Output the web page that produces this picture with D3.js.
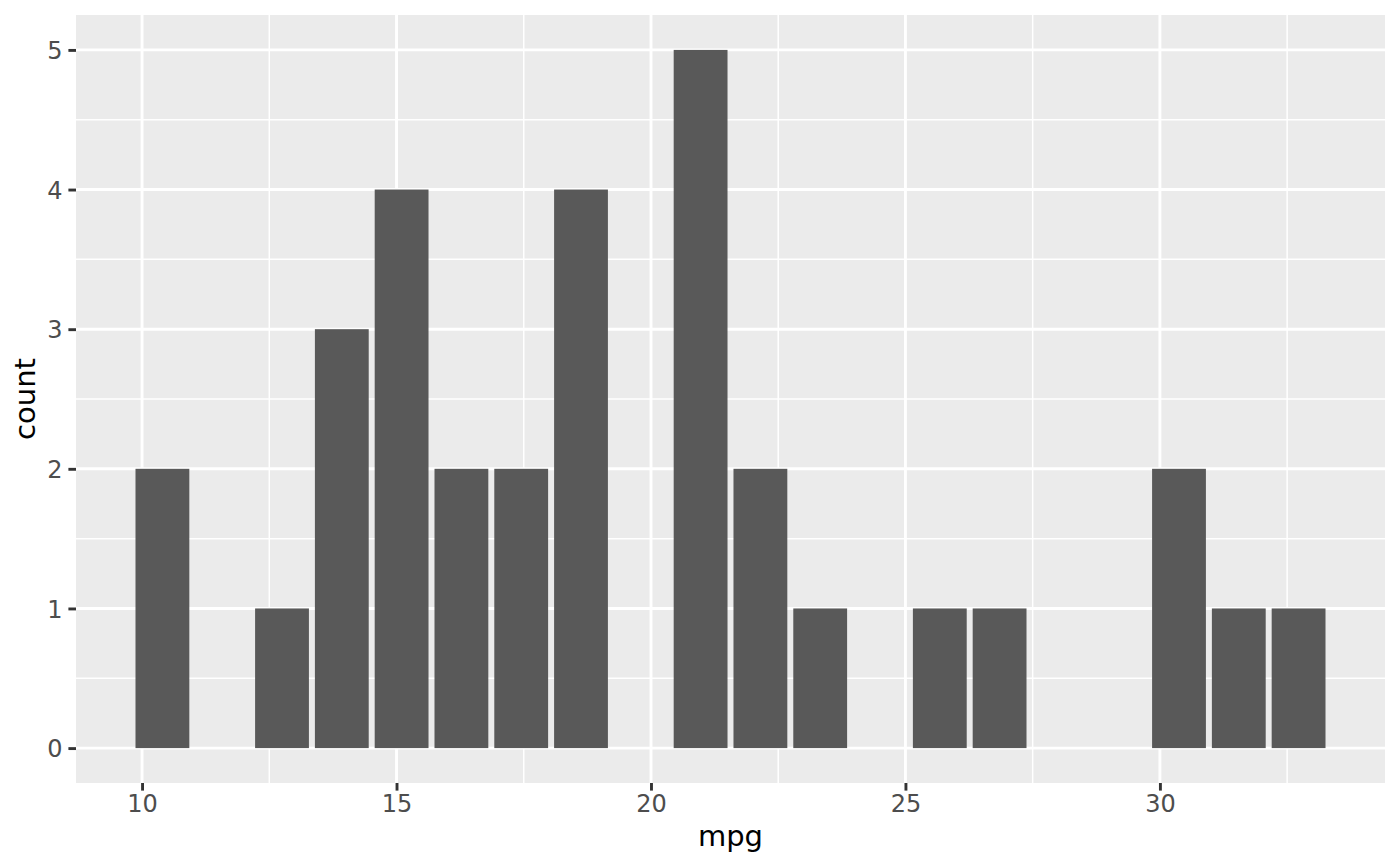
<!DOCTYPE html>
<html>
<head>
<meta charset="utf-8">
<script src="https://cdn.jsdelivr.net/npm/d3@7"></script>
<style>
  html, body { margin: 0; padding: 0; background: #ffffff; }
  svg { display: block; }
</style>
</head>
<body>
<svg id="chart" width="1400" height="866"></svg>
<script>
// Bin centres of the mpg histogram (20 bins)
const binCenters = [10.4, 11.575, 12.75, 13.925, 15.1, 16.275, 17.45, 18.625, 19.8, 20.975,
                    22.15, 23.325, 24.5, 25.675, 26.85, 28.025, 29.2, 30.375, 31.55, 32.725];
// Counts per bin
const counts = [2, 0, 1, 3, 4, 2, 2, 4, 0, 5, 2, 1, 0, 1, 1, 0, 0, 2, 1, 1];
const binWidth = 1.175;
const xTicks = [10, 15, 20, 25, 30];
const xMinor = [12.5, 17.5, 22.5, 27.5, 32.5];
const yTicks = [0, 1, 2, 3, 4, 5];
const yMinor = [0.5, 1.5, 2.5, 3.5, 4.5];
const xTitle = "mpg";
const yTitle = "count";

const data = binCenters.map((c, i) => ({ x: c, n: counts[i] }));

const svg = d3.select("#chart");
const panel = { left: 76, right: 1385, top: 15, bottom: 783 };

const barW = binWidth * 0.9;
const xMin = d3.min(binCenters) - barW / 2, xMax = d3.max(binCenters) + barW / 2;
const xExp = (xMax - xMin) * 0.05;
const x = d3.scaleLinear().domain([xMin - xExp, xMax + xExp]).range([panel.left, panel.right]);
const yMax = d3.max(counts);
const y = d3.scaleLinear().domain([-yMax * 0.05, yMax * 1.05]).range([panel.bottom, panel.top]);

svg.append("rect").attr("width", 1400).attr("height", 866).attr("fill", "#ffffff");
svg.append("rect")
  .attr("x", panel.left).attr("y", panel.top)
  .attr("width", panel.right - panel.left).attr("height", panel.bottom - panel.top)
  .attr("fill", "#EBEBEB");

const grid = svg.append("g");
grid.selectAll(".xminor").data(xMinor).join("line")
  .attr("x1", d => x(d)).attr("x2", d => x(d))
  .attr("y1", panel.top).attr("y2", panel.bottom)
  .attr("stroke", "#ffffff").attr("stroke-width", 1.5);
grid.selectAll(".yminor").data(yMinor).join("line")
  .attr("y1", d => y(d)).attr("y2", d => y(d))
  .attr("x1", panel.left).attr("x2", panel.right)
  .attr("stroke", "#ffffff").attr("stroke-width", 1.5);
grid.selectAll(".xmajor").data(xTicks).join("line")
  .attr("x1", d => x(d)).attr("x2", d => x(d))
  .attr("y1", panel.top).attr("y2", panel.bottom)
  .attr("stroke", "#ffffff").attr("stroke-width", 2.9);
grid.selectAll(".ymajor").data(yTicks).join("line")
  .attr("y1", d => y(d)).attr("y2", d => y(d))
  .attr("x1", panel.left).attr("x2", panel.right)
  .attr("stroke", "#ffffff").attr("stroke-width", 2.9);

svg.append("g").selectAll("rect").data(data.filter(d => d.n > 0)).join("rect")
  .attr("x", d => x(d.x - barW / 2))
  .attr("width", d => x(d.x + barW / 2) - x(d.x - barW / 2))
  .attr("y", d => y(d.n))
  .attr("height", d => y(0) - y(d.n))
  .attr("fill", "#595959");

// Axes
const tickLen = 7.6;
const xAxis = d3.axisBottom(x).tickValues(xTicks).tickSize(tickLen).tickPadding(4).tickFormat(d3.format("d"));
const gx = svg.append("g").attr("transform", `translate(0,${panel.bottom})`).call(xAxis);
gx.select(".domain").remove();
gx.selectAll(".tick line").attr("stroke", "#333333").attr("stroke-width", 2.9);
gx.selectAll(".tick text").attr("fill", "#4D4D4D")
  .style("font-family", "DejaVu Sans").style("font-size", "24px")
  .attr("dy", null).attr("y", 29);

const yAxis = d3.axisLeft(y).tickValues(yTicks).tickSize(tickLen).tickPadding(6).tickFormat(d3.format("d"));
const gy = svg.append("g").attr("transform", `translate(${panel.left},0)`).call(yAxis);
gy.select(".domain").remove();
gy.selectAll(".tick line").attr("stroke", "#333333").attr("stroke-width", 2.9);
gy.selectAll(".tick text").attr("fill", "#4D4D4D")
  .style("font-family", "DejaVu Sans").style("font-size", "24px")
  .attr("dy", "0.36em");

svg.append("text")
  .attr("x", (panel.left + panel.right) / 2).attr("y", 846)
  .attr("text-anchor", "middle")
  .style("font-family", "DejaVu Sans").style("font-size", "29px")
  .attr("fill", "#000000").text(xTitle);

svg.append("text")
  .attr("transform", `translate(35,${(panel.top + panel.bottom) / 2}) rotate(-90)`)
  .attr("text-anchor", "middle")
  .style("font-family", "DejaVu Sans").style("font-size", "29px")
  .attr("fill", "#000000").text(yTitle);
</script>
</body>
</html>
